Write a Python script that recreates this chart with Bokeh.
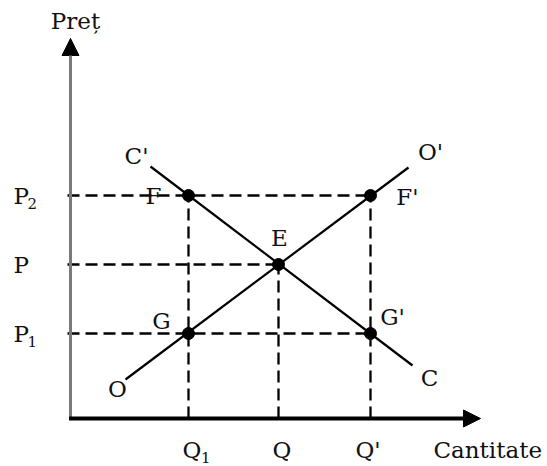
from bokeh.plotting import figure
from bokeh.models import Range1d, Arrow, NormalHead
from bokeh.core.properties import value
from bokeh.embed import file_html
from bokeh.resources import INLINE

# ---- data (arbitrary units) ----
q_labels = ["Q", "Q", "Q'"]
q_subs = ["1", "", ""]
q_values = [11.8, 20.8, 30.0]          # Q1, Q, Q'
p_labels = ["P", "P", "P"]
p_subs = ["2", "", "1"]
p_values = [22.3, 15.4, 8.5]           # P2, P, P1

supply_x = [5.5, 33.8]                 # O -> O'
supply_y = [3.9, 25.1]
demand_x = [8.0, 34.2]                 # C' -> C
demand_y = [25.2, 5.3]

point_names = ["F", "F'", "E", "G", "G'"]
point_x = [q_values[0], q_values[2], q_values[1], q_values[0], q_values[2]]
point_y = [p_values[0], p_values[0], p_values[1], p_values[2], p_values[2]]

mark_text = ["C'", "O'", "F", "F'", "E", "G", "G'", "O", "C"]
mark_x = [6.6, 36.0, 8.3, 33.7, 20.9, 9.1, 32.2, 4.7, 35.9]
mark_y = [26.3, 26.7, 22.3, 22.2, 18.1, 9.8, 10.2, 3.0, 4.1]

x_title = "Cantitate"
y_title = "Pre\u021b"
x_axis_end = 41.0
y_axis_end = 38.0

# ---- figure ----
p = figure(width=547, height=466, output_backend="svg", toolbar_location=None,
           x_range=Range1d(-7.0, 47.7), y_range=Range1d(-4.8, 41.8),
           min_border=0)
p.axis.visible = False
p.grid.visible = False
p.outline_line_color = None
p.background_fill_color = "white"
p.border_fill_color = "white"

font = value("DejaVu Serif")
fs = "23px"
fs_sub = "15px"
tc = "#111111"

# dashed guide lines
hx0 = [-0.3, -0.3, -0.3]
hx1 = [q_values[2], q_values[1], q_values[2]]
p.segment(x0=hx0, y0=p_values, x1=hx1, y1=p_values,
          line_color="black", line_width=2.3, line_dash="12 6")
vy1 = [p_values[0], p_values[1], p_values[0]]
p.segment(x0=q_values, y0=[0, 0, 0], x1=q_values, y1=vy1,
          line_color="black", line_width=2.3, line_dash="12 6")

# supply and demand
p.line(supply_x, supply_y, line_color="black", line_width=2.2)
p.line(demand_x, demand_y, line_color="black", line_width=2.2)

# axes with arrows
p.add_layout(Arrow(end=NormalHead(size=17, fill_color="black", line_color="black"),
                   x_start=0, y_start=0, x_end=0, y_end=y_axis_end,
                   line_color="#7a7a7a", line_width=3))
p.add_layout(Arrow(end=NormalHead(size=17, fill_color="black", line_color="black"),
                   x_start=-0.15, y_start=0, x_end=x_axis_end, y_end=0,
                   line_color="black", line_width=4))

# points
p.scatter(point_x, point_y, size=12, color="black")

# labels on curves / points
p.text(x=mark_x, y=mark_y, text=mark_text, text_font=font, text_font_size=fs,
       text_color=tc, text_align="center", text_baseline="middle")

# price labels with subscripts
p_label_x = [-5.7] * 3
p.text(x=p_label_x, y=p_values, text=p_labels, text_font=font, text_font_size=fs,
       text_color=tc, text_align="left", text_baseline="middle")
p.text(x=[v + 1.4 for v in p_label_x], y=[v - 0.8 for v in p_values], text=p_subs,
       text_font=font, text_font_size=fs_sub, text_color=tc,
       text_align="left", text_baseline="middle")

# quantity labels with subscripts
q_label_x = [11.2, 20.2, 28.5]
q_label_y = [-3.1] * 3
p.text(x=q_label_x, y=q_label_y, text=q_labels, text_font=font, text_font_size=fs,
       text_color=tc, text_align="left", text_baseline="middle")
p.text(x=[v + 1.85 for v in q_label_x], y=[v - 0.8 for v in q_label_y], text=q_subs,
       text_font=font, text_font_size=fs_sub, text_color=tc,
       text_align="left", text_baseline="middle")

# axis titles
p.text(x=[36.3], y=[-3.1], text=[x_title], text_font=font, text_font_size=fs,
       text_color=tc, text_align="left", text_baseline="middle")
p.text(x=[0.5], y=[39.8], text=[y_title], text_font=font, text_font_size=fs,
       text_color=tc, text_align="center", text_baseline="middle")

open("out.html", "w").write(file_html(p, INLINE))
